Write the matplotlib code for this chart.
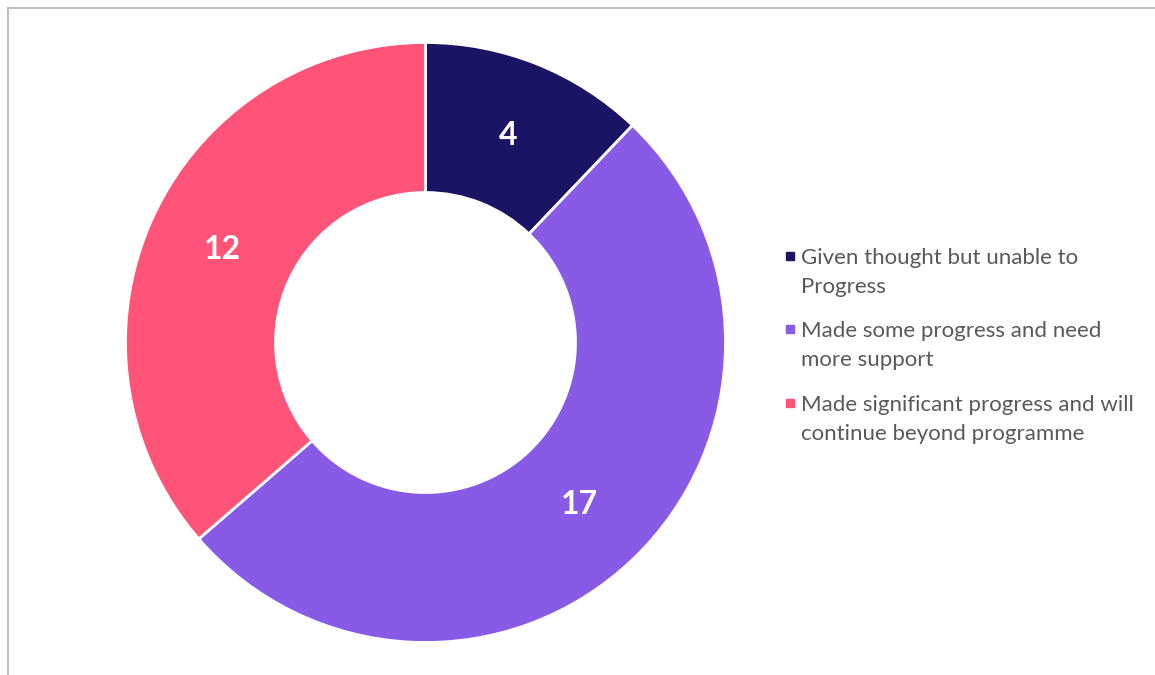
import numpy as np
import matplotlib.pyplot as plt
from matplotlib.lines import Line2D
from matplotlib.patches import Rectangle

# --- data ---
labels = ['Given thought but unable to\nProgress',
          'Made some progress and need\nmore support',
          'Made significant progress and will\ncontinue beyond programme']
values = [4, 17, 12]
colors = ['#1B1464', '#885AE6', '#FF5478']

plt.rcParams['font.family'] = ['Lato', 'DejaVu Sans']

W, H = 1155, 675
fig = plt.figure(figsize=(W / 100, H / 100), dpi=100, facecolor='white')

# donut: centre (425, 342) px, radius 300 px
cx, cy, r = 425.5, 342.5, 300
ax = fig.add_axes([(cx - r) / W, (H - cy - r) / H, 2 * r / W, 2 * r / H])
wedges, texts = ax.pie(values, colors=colors, startangle=90, counterclock=False,
                       radius=1.0, wedgeprops=dict(width=0.5, edgecolor='white', linewidth=2))
for w, v in zip(wedges, values):
    ang = np.deg2rad((w.theta1 + w.theta2) / 2)
    ax.text(0.745 * np.cos(ang), 0.745 * np.sin(ang), str(v), color='white',
            fontsize=23, fontweight='bold', ha='center', va='center')
ax.set_xlim(-1, 1)
ax.set_ylim(-1, 1)
ax.set_aspect('equal')
ax.axis('off')

# legend drawn by hand so markers sit on the first line
leg_y = [256, 329, 403]
for lab, col, y in zip(labels, colors, leg_y):
    fig.add_artist(Rectangle((786 / W, 1 - (y + 4) / H), 8 / W, 8 / H,
                             transform=fig.transFigure, color=col))
    fig.text(801 / W, 1 - (y - 8) / H, lab, color='#595959', fontsize=16,
             ha='left', va='top', linespacing=1.55)

# chart frame (only top and left show)
fig.add_artist(Line2D([8 / W, 1], [1 - 8 / H, 1 - 8 / H], color='#BFBFBF', lw=1.5,
                      transform=fig.transFigure))
fig.add_artist(Line2D([8 / W, 8 / W], [0, 1 - 8 / H], color='#BFBFBF', lw=1.5,
                      transform=fig.transFigure))

fig.savefig('out.png', dpi=100, facecolor='white')
